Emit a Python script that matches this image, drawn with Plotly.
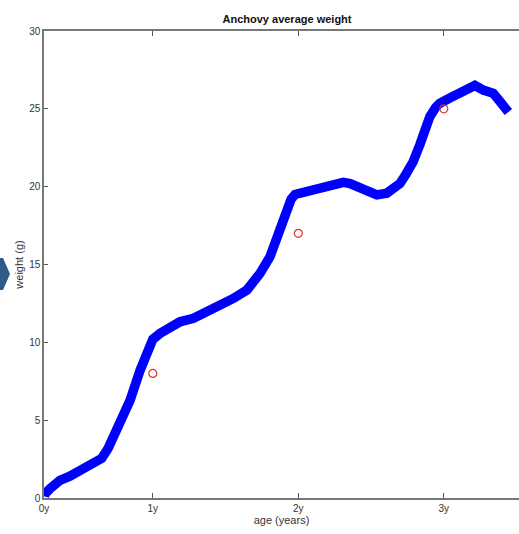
import plotly.graph_objects as go

# Simulated mean weight trajectory (age in days, weight in grams)
age_days = [1, 3, 15, 40, 65, 90, 115, 145, 161, 182, 198, 216, 241, 256, 266, 273,
            291, 316, 341, 375, 408, 442, 475, 509, 527, 542, 567, 584, 595, 609, 620,
            630, 659, 676, 718, 751, 768, 801, 835, 860, 893, 908, 926, 943, 956, 968,
            983, 993, 1018, 1052, 1081, 1102, 1127, 1144, 1165]
weight_g = [0.1, 0.28, 0.6, 1.14, 1.4, 1.78, 2.15, 2.55, 3.2, 4.35, 5.3, 6.28, 8.2, 9.3,
            9.93, 10.2, 10.57, 11.0, 11.32, 11.54, 11.96, 12.28, 12.82, 13.36, 13.9,
            14.43, 15.5, 16.78, 17.6, 18.5, 19.2, 19.5, 19.7, 19.9, 20.1, 20.28, 20.2,
            19.8, 19.47, 19.58, 20.2, 20.8, 21.6, 22.7, 23.7, 24.5, 25.1, 25.36, 25.7,
            26.1, 26.5, 26.2, 26.0, 25.47, 24.8]

# Observed weights at each birthday
obs_age_days = [273, 638, 1003]
obs_weight_g = [8, 17, 25]

tick_days = [0, 273, 638, 1003]
tick_labels = ["0y", "1y", "2y", "3y"]
y_ticks = [0, 5, 10, 15, 20, 25, 30]

W, H = 519, 534
ML, MR, MT, MB = 44, 0, 31, 36

fig = go.Figure()
fig.add_trace(go.Scatter(
    x=age_days, y=weight_g, mode="lines",
    line=dict(color="#0000FF", width=9.5, shape="linear"),
    hoverinfo="skip", showlegend=False,
))
fig.add_trace(go.Scatter(
    x=obs_age_days, y=obs_weight_g, mode="markers",
    marker=dict(symbol="circle-open", size=8, color="#E0302A", line=dict(width=1.2)),
    showlegend=False,
))

pw = W - ML - MR
ph = H - MT - MB


def px(xp):
    return (xp - ML) / pw


def py(yp):
    return (H - MB - yp) / ph


# Dark blue chevron at the left edge of the page
chev = [(0, 258), (3, 258), (10, 274), (3, 290), (0, 290)]
path = "M " + " L ".join(f"{px(a):.4f},{py(b):.4f}" for a, b in chev) + " Z"

fig.update_layout(
    width=W, height=H,
    margin=dict(l=ML, r=MR, t=MT, b=MB),
    paper_bgcolor="white", plot_bgcolor="white",
    font=dict(family="Liberation Sans, Arial, sans-serif", size=10, color="#333333"),
    title=dict(text="<b>Anchovy average weight</b>", x=(287) / W, xanchor="center",
               y=1 - 19 / H, yanchor="middle",
               font=dict(size=11, color="#111111")),
    shapes=[dict(type="path", path=path, xref="paper", yref="paper",
                 fillcolor="#2D5A86", line=dict(width=0), layer="above")],
    xaxis=dict(
        range=[0, (W - ML) / 0.3986], tickvals=tick_days, ticktext=tick_labels,
        ticks="inside", ticklen=5, tickcolor="#555555", tickwidth=1,
        showline=True, linecolor="#777777", linewidth=1.5, mirror="ticks",
        showgrid=False, zeroline=False,
        title=dict(text="age (years)", standoff=2, font=dict(size=11, color="#333333")),
        tickfont=dict(size=10, color="#333333"),
    ),
    yaxis=dict(
        range=[0, 30], tickvals=y_ticks,
        ticks="inside", ticklen=4, tickcolor="#555555", tickwidth=1,
        showline=True, linecolor="#777777", linewidth=1.5,
        showgrid=False, zeroline=False,
        title=dict(text="weight (g)", standoff=3, font=dict(size=11, color="#333333")),
        tickfont=dict(size=10, color="#333333"),
    ),
)

fig.write_html("out.html")
